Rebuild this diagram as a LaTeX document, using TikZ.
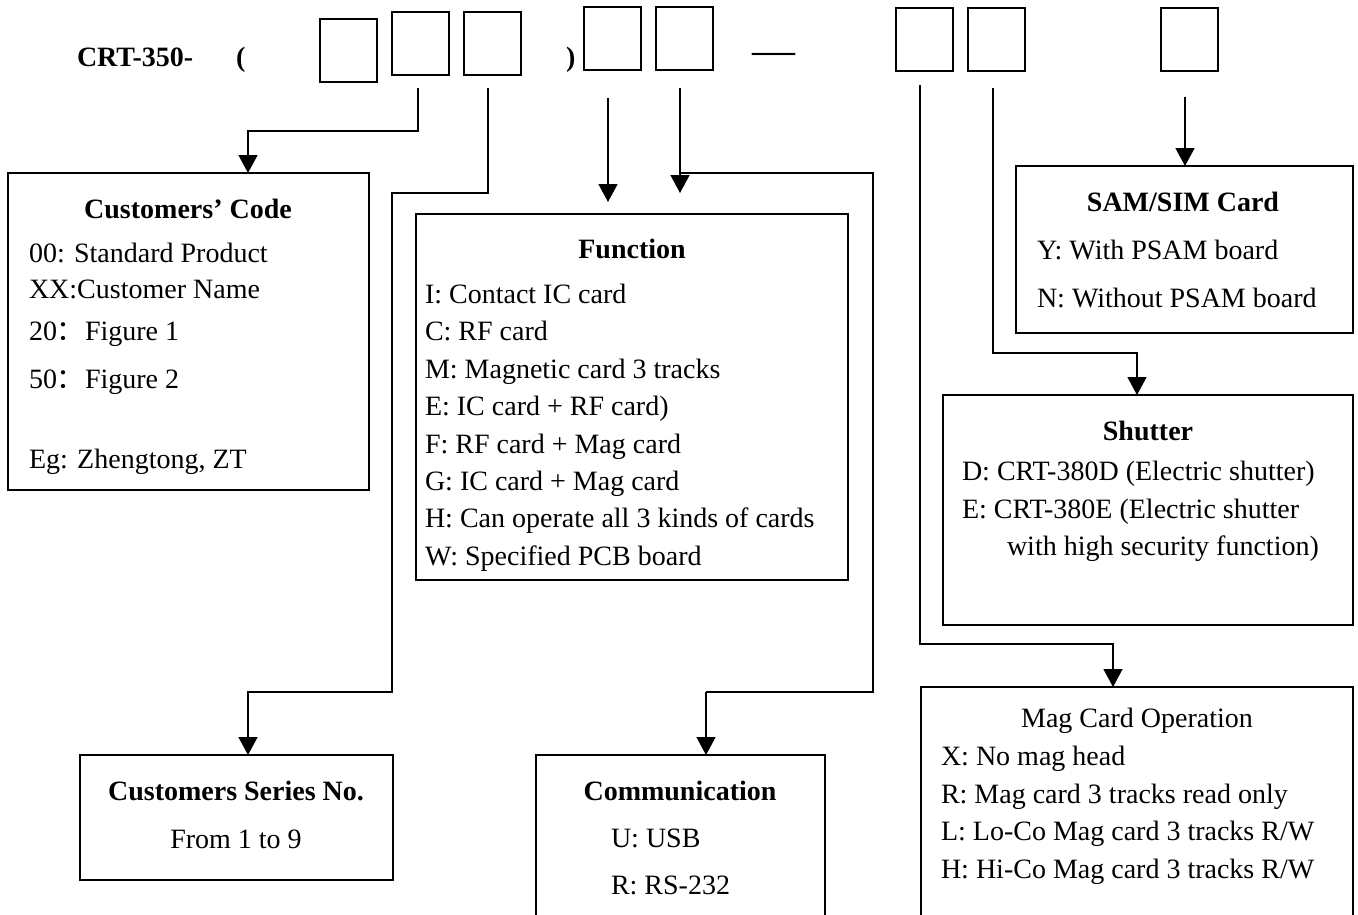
\documentclass[tikz,border=0pt]{standalone}
\usepackage{fontspec}
\setmainfont{Liberation Serif}
\newfontfamily\cjkfont{Noto Sans CJK SC}
\usetikzlibrary{arrows.meta}
\begin{document}
\begin{tikzpicture}[x=1pt,y=-1pt,
  every node/.style={inner sep=0pt,outer sep=0pt,font=\fontsize{28}{34}\selectfont},
  digit/.style={draw,line width=2.2pt,anchor=north west,minimum width=57,minimum height=63},
  bigbox/.style={draw,line width=1.8pt,anchor=north west},
  ttl/.style={anchor=base,font=\fontsize{28}{34}\selectfont\bfseries},
  txt/.style={anchor=base west},
  conn/.style={line width=1.5pt},
  arr/.style={line width=1.5pt,-{Triangle[length=18pt,width=19pt]}}]
\useasboundingbox (0,0) rectangle (1358,914);
\clip (0,0) rectangle (1358,914);
% heading
\node[anchor=base west,font=\fontsize{28}{34}\selectfont\bfseries] (crt) at (77,66) {CRT-350-};
\node[anchor=base west,font=\fontsize{28}{34}\selectfont\bfseries] (lp) at (236,66) {(};
\node[anchor=base west,font=\fontsize{28}{34}\selectfont\bfseries] (rp) at (566,66) {)};
\node[anchor=base west,font=\fontsize{43}{50}\selectfont] (dash) at (752,64) {—};
% digit boxes
\node[digit] (b1) at (320,19) {};
\node[digit] (b2) at (392,12) {};
\node[digit] (b3) at (464,12) {};
\node[digit] (b4) at (584,7) {};
\node[digit] (b5) at (656,7) {};
\node[digit] (b6) at (896,8) {};
\node[digit] (b7) at (968,8) {};
\node[digit] (b8) at (1161,8) {};
% big boxes
\node[bigbox,minimum width=361,minimum height=317] (code) at (8,173) {};
\node[bigbox,minimum width=432,minimum height=366] (func) at (416,214) {};
\node[bigbox,minimum width=337,minimum height=167] (sam) at (1016,166) {};
\node[bigbox,minimum width=410,minimum height=230] (shut) at (943,395) {};
\node[bigbox,minimum width=432,minimum height=260] (mag) at (921,687) {};
\node[bigbox,minimum width=313,minimum height=125] (series) at (80,755) {};
\node[bigbox,minimum width=289,minimum height=200] (comm) at (536,755) {};
% texts: Customers' Code
\node[ttl] (codeT) at (188,218) {Customers’ Code};
\node[txt] (code1) at (29,262) {00: Standard Product};
\node[txt] (code2) at (29,298) {XX:Customer Name};
\node[txt] (code3) at (29,340) {20{\cjkfont ：}Figure 1};
\node[txt] (code4) at (29,388) {50{\cjkfont ：}Figure 2};
\node[txt] (code5) at (29,468) {Eg: Zhengtong, ZT};
% Function
\node[ttl] (funcT) at (632,258) {Function};
\node[txt] (f1) at (425,303) {I: Contact IC card};
\node[txt] (f2) at (425,340) {C: RF card};
\node[txt] (f3) at (425,378) {M: Magnetic card 3 tracks};
\node[txt] (f4) at (425,415) {E: IC card + RF card)};
\node[txt] (f5) at (425,453) {F: RF card + Mag card};
\node[txt] (f6) at (425,490) {G: IC card + Mag card};
\node[txt] (f7) at (425,527) {H: Can operate all 3 kinds of cards};
\node[txt] (f8) at (425,565) {W: Specified PCB board};
% SAM
\node[ttl] (samT) at (1183,211) {SAM/SIM Card};
\node[txt] (sam1) at (1037,259) {Y: With PSAM board};
\node[txt] (sam2) at (1037,307) {N: Without PSAM board};
% Shutter
\node[ttl] (shutT) at (1148,440) {Shutter};
\node[txt] (sh1) at (962,480) {D: CRT-380D (Electric shutter)};
\node[txt] (sh2) at (962,518) {E: CRT-380E (Electric shutter};
\node[txt] (sh3) at (1007,555) {with high security function)};
% Mag
\node[anchor=base] (magT) at (1137,727) {Mag Card Operation};
\node[txt] (m1) at (941,765) {X: No mag head};
\node[txt] (m2) at (941,803) {R: Mag card 3 tracks read only};
\node[txt] (m3) at (941,840) {L: Lo-Co Mag card 3 tracks R/W};
\node[txt] (m4) at (941,878) {H: Hi-Co Mag card 3 tracks R/W};
% Series
\node[ttl] (serT) at (236,800) {Customers Series No.};
\node[anchor=base] (ser1) at (236,848) {From 1 to 9};
% Communication
\node[ttl] (comT) at (680,800) {Communication};
\node[txt] (com1) at (611,847) {U: USB};
\node[txt] (com2) at (611,894) {R: RS-232};
% connector start points
\coordinate (s2) at (418,88);
\coordinate (s3) at (488,88);
\coordinate (s4) at (608,98);
\coordinate (s5) at (680,88);
\coordinate (s6) at (920,85);
\coordinate (s7) at (993,88);
\coordinate (s8) at (1185,97);
\coordinate (t4) at (608,202);
\coordinate (t5) at (680,193);
\coordinate (k5) at (680,173);
% connectors
\draw[arr] (s2) |- (248,131) -- (248,131 |- code.north);
\draw[arr] (s3) |- (392,193) |- (248,692) -- (248,692 |- series.north);
\draw[arr] (s4) -- (t4);
\draw[arr] (s5) -- (t5);
\draw[conn] (k5) -| (873,692) -- (706,692);
\draw[arr] (706,692) -- (706,692 |- comm.north);
\draw[arr] (s6) |- (1113,644) -- (1113,644 |- mag.north);
\draw[arr] (s7) |- (1137,353) -- (1137,353 |- shut.north);
\draw[arr] (s8) -- (s8 |- sam.north);
\end{tikzpicture}
\end{document}
